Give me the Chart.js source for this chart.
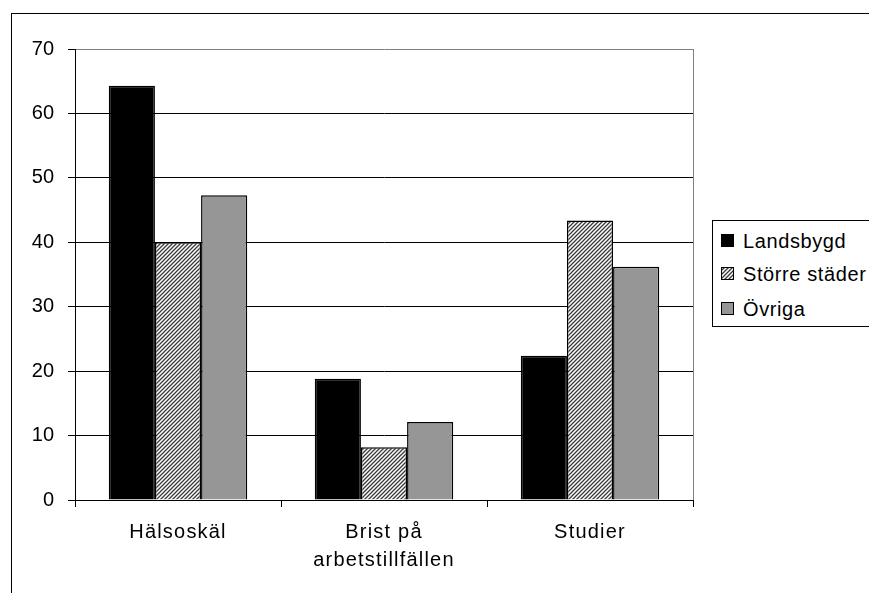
<!DOCTYPE html>
<html>
<head>
<meta charset="utf-8">
<script src="https://cdn.jsdelivr.net/npm/chart.js@4/dist/chart.umd.min.js"></script>
<style>
  html, body { margin: 0; padding: 0; background: #fff; overflow: hidden; }
  #wrap { position: relative; width: 869px; height: 593px; }
  #frame { position: absolute; left: 11px; top: 13px; width: 900px; height: 700px; border: 1px solid #000; box-sizing: border-box; }
  #c { position: absolute; left: 0; top: 0; }
  #legend { position: absolute; left: 712px; top: 220px; width: 200px; height: 107px; border: 1px solid #000; box-sizing: border-box; background: #fff;
            font-family: "Liberation Sans", Arial, sans-serif; font-size: 20px; color: #000; }
  .item { position: absolute; left: 8px; height: 24px; line-height: 24px; white-space: nowrap; }
  .item canvas { position: absolute; left: 0; top: 5px; }
  .item span { position: absolute; left: 22px; top: 0; letter-spacing: 0.6px; }
</style>
</head>
<body>
<div id="wrap">
  <div id="frame"></div>
  <canvas id="c" width="869" height="593"></canvas>
  <div id="legend"></div>
</div>
<script>
const categories = [["Hälsoskäl"], ["Brist på", "arbetstillfällen"], ["Studier"]];
const seriesNames = ["Landsbygd", "Större städer", "Övriga"];
const landsbygd = [64.3, 18.8, 22.4];
const storreStader = [40.0, 8.2, 43.4];
const ovriga = [47.3, 12.1, 36.2];
const yTicks = [0, 10, 20, 30, 40, 50, 60, 70];

function makeHatchTile() {
  const p = document.createElement('canvas');
  p.width = 4; p.height = 4;
  const g = p.getContext('2d');
  g.fillStyle = '#fff';
  g.fillRect(0, 0, 4, 4);
  g.strokeStyle = '#3a3a3a';
  g.lineWidth = 1.3;
  g.beginPath();
  g.moveTo(-1, 5); g.lineTo(5, -1);
  g.moveTo(-1, 1); g.lineTo(1, -1);
  g.moveTo(3, 5); g.lineTo(5, 3);
  g.stroke();
  return p;
}
const tile = makeHatchTile();
const ctx = document.getElementById('c').getContext('2d');
const hatch = ctx.createPattern(tile, 'repeat');
const fills = ['#000000', hatch, '#969696'];
const seriesData = [landsbygd, storreStader, ovriga];

const FONT = { family: '"Liberation Sans", Arial, sans-serif', size: 20, lineHeight: 1.4 };

const plotBorder = {
  id: 'plotBorder',
  beforeDatasetsDraw(chart) {
    const a = chart.chartArea, c = chart.ctx;
    c.save();
    c.strokeStyle = '#808080';
    c.lineWidth = 1;
    c.beginPath();
    c.moveTo(a.right + 0.5, a.top);
    c.lineTo(a.right + 0.5, a.bottom);
    c.stroke();
    c.restore();
  }
};

new Chart(ctx, {
  type: 'bar',
  data: {
    labels: categories,
    datasets: seriesNames.map((n, i) => ({
      label: n,
      data: seriesData[i],
      backgroundColor: fills[i],
      borderColor: '#000',
      borderWidth: 1.5,
      categoryPercentage: 0.672,
      barPercentage: 1.0
    }))
  },
  options: {
    responsive: false,
    animation: false,
    devicePixelRatio: 1,
    layout: { padding: { left: 0, top: 49, right: 176, bottom: 0 } },
    plugins: { legend: { display: false }, tooltip: { enabled: false } },
    scales: {
      x: {
        offset: true,
        grid: { offset: true, drawOnChartArea: false, drawTicks: true, tickLength: 7, color: '#000' },
        border: { display: true, color: '#000', width: 1 },
        ticks: { color: '#000', font: FONT, padding: 11, maxRotation: 0, autoSkip: false },
        afterFit(s) { s.height = 93; },
        afterUpdate(s) {
          if (s._spaced) return;
          s._spaced = true;
          const orig = s.drawLabels;
          s.drawLabels = function (area) {
            const c = this.ctx;
            const prev = c.letterSpacing;
            c.letterSpacing = '1.2px';
            orig.call(this, area);
            c.letterSpacing = prev || '0px';
          };
        }
      },
      y: {
        min: 0, max: 70,
        afterBuildTicks(s) { s.ticks = yTicks.map(v => ({ value: v })); },
        grid: {
          color: (c) => (c.tick && c.tick.value === 70) ? '#808080' : '#000',
          tickColor: '#000',
          tickLength: 7, drawTicks: true
        },
        border: { display: true, color: '#000', width: 1 },
        ticks: { color: '#000', font: { family: FONT.family, size: 20 }, padding: 14 },
        afterFit(s) { s.width = 75; }
      }
    }
  },
  plugins: [plotBorder]
});

// HTML legend
const legend = document.getElementById('legend');
const tops = [8, 41, 76];
seriesNames.forEach((n, i) => {
  const it = document.createElement('div');
  it.className = 'item';
  it.style.top = tops[i] + 'px';
  const sw = document.createElement('canvas');
  sw.width = 13; sw.height = 13;
  const g = sw.getContext('2d');
  g.fillStyle = (i === 1) ? g.createPattern(tile, 'repeat') : fills[i];
  g.fillRect(0, 0, 13, 13);
  g.strokeStyle = '#000'; g.lineWidth = 1;
  g.strokeRect(0.5, 0.5, 12, 12);
  const t = document.createElement('span');
  t.textContent = n;
  it.appendChild(sw); it.appendChild(t);
  legend.appendChild(it);
});
</script>
</body>
</html>
